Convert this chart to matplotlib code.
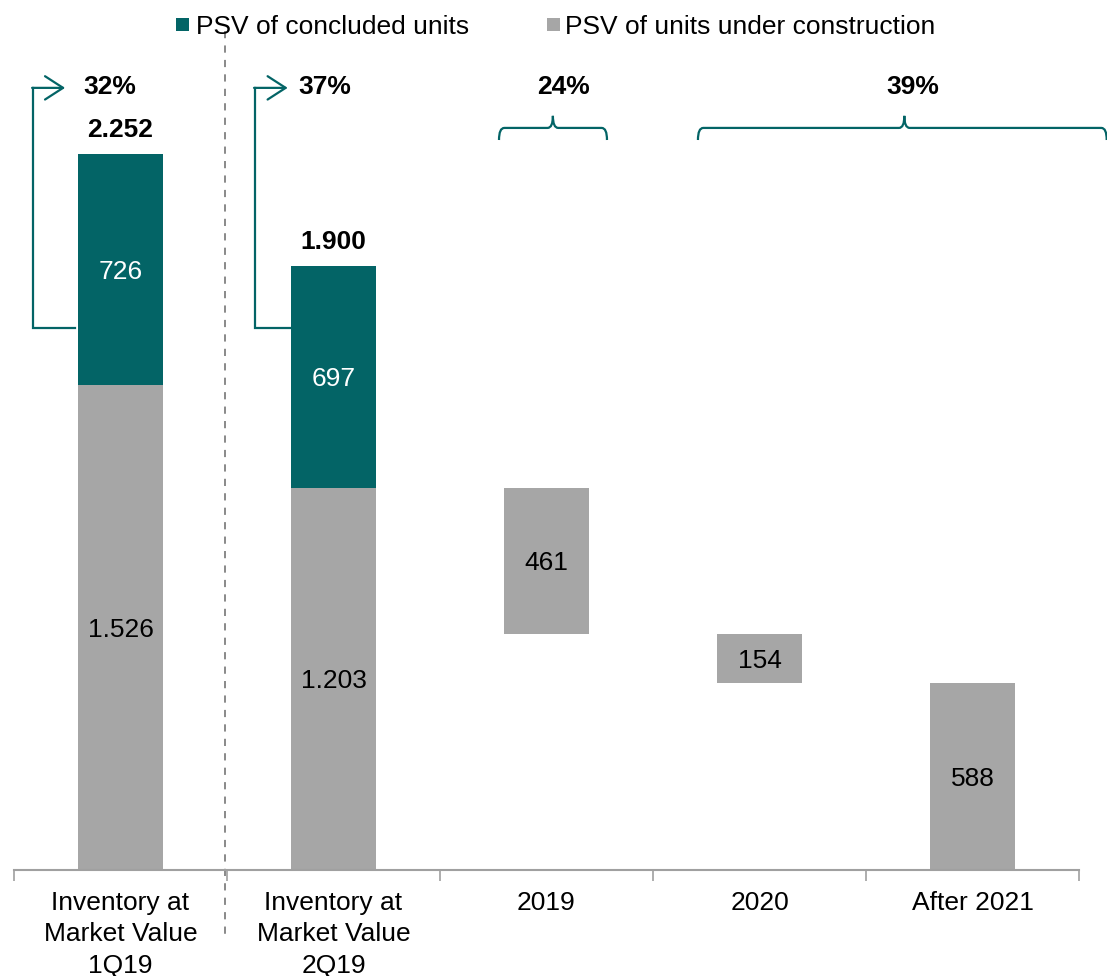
import numpy as np
import matplotlib
matplotlib.use('Agg')
import matplotlib.pyplot as plt
from matplotlib.patches import Rectangle, PathPatch
from matplotlib.path import Path

plt.rcParams['font.family'] = ['Liberation Sans', 'DejaVu Sans']

categories = ['Inventory at\nMarket Value\n1Q19', 'Inventory at\nMarket Value\n2Q19',
              '2019', '2020', 'After 2021']
concluded = [726, 697, 0, 0, 0]
under_construction = [1526, 1203, 461, 154, 588]
legend_labels = ['PSV of concluded units', 'PSV of units under construction']

teal = '#036466'
grey = '#A6A6A6'

def br(v):
    return f'{v:,}'.replace(',', '.')

# the last three bars step down from the 2Q19 stock of units under construction
bases = [0, 0]
level = under_construction[1]
for v in under_construction[2:]:
    level -= v
    bases.append(level)

totals = [concluded[0] + under_construction[0], concluded[1] + under_construction[1]]

f = plt.figure(figsize=(11.07, 9.76), dpi=100)
ax = f.add_axes([14/1107, 106/976, 1065/1107, 2600*0.31794/976])
x = np.arange(len(categories))
w = 0.4

ax.bar(x, under_construction, w, bottom=bases, color=grey, zorder=2)
ax.bar(x[:2], concluded[:2], w, bottom=under_construction[:2], color=teal, zorder=2)

for i in range(len(categories)):
    ax.text(x[i], bases[i] + under_construction[i]/2, br(under_construction[i]),
            ha='center', va='center_baseline', fontsize=19, color='black')
for i in range(2):
    ax.text(x[i], under_construction[i] + concluded[i]/2, br(concluded[i]),
            ha='center', va='center_baseline', fontsize=19, color='white')
ax.text(x[0], totals[0] + 82, br(totals[0]), ha='center', va='center_baseline', fontsize=19, fontweight='bold')
ax.text(x[1], totals[1] + 82, br(totals[1]), ha='center', va='center_baseline', fontsize=19, fontweight='bold')

ax.set_xlim(-0.5, len(categories) - 0.5)
ax.set_ylim(0, 2600)
for s in ['top', 'right', 'left']:
    ax.spines[s].set_visible(False)
ax.spines['bottom'].set_color('#A0A0A0')
ax.spines['bottom'].set_linewidth(1.5)
ax.set_yticks([])
ax.set_xticks(x)
ax.set_xticklabels(categories, fontsize=19, linespacing=1.4)
ax.tick_params(axis='x', which='major', length=0, pad=15)
ax.set_xticks(np.arange(-0.5, len(categories)), minor=True)
ax.tick_params(axis='x', which='minor', length=8, width=1.2, color='#A0A0A0', direction='out')

# separator between the two inventory dates
ax.plot([0.49, 0.49], [2638, -220], color='#808080', ls=(0, (4, 4)), lw=1.3, clip_on=False, zorder=1)

# share of concluded units: elbow arrows
pct_done = [concluded[i]/totals[i]*100 for i in range(2)]
for xl, xr, tip, lx, p in [(-0.411, -0.214, -0.26, -0.05, pct_done[0]),
                           (0.631, 0.795, 0.785, 0.96, pct_done[1])]:
    ax.plot([xr, xl, xl], [1705, 1705, 2460], color=teal, lw=1.6, clip_on=False, solid_joinstyle='miter')
    ax.annotate('', xy=(tip, 2460), xytext=(xl - 0.004, 2460),
                arrowprops=dict(arrowstyle='->,head_length=0.65,head_width=0.42', color=teal,
                                lw=1.6, mutation_scale=20, shrinkA=0, shrinkB=0),
                annotation_clip=False)
    ax.text(lx, 2471, f'{p:.0f}%', ha='center', va='center_baseline', fontsize=19, fontweight='bold')

def brace(x0, x1, xc, y, h=38, r=0.025):
    verts = [(x0, y - h), (x0, y), (x0 + r, y),
             (xc - r, y), (xc, y), (xc, y + h),
             (xc, y), (xc + r, y),
             (x1 - r, y), (x1, y), (x1, y - h)]
    codes = [Path.MOVETO, Path.CURVE3, Path.CURVE3,
             Path.LINETO, Path.CURVE3, Path.CURVE3,
             Path.CURVE3, Path.CURVE3,
             Path.LINETO, Path.CURVE3, Path.CURVE3]
    ax.add_patch(PathPatch(Path(verts, codes), fill=False, edgecolor=teal, lw=1.6, clip_on=False))

# share of the 2Q19 stock delivered per period
p2019 = under_construction[2]/totals[1]*100
plater = (under_construction[3] + under_construction[4])/totals[1]*100
brace(1.777, 2.284, 2.03, 2334)
ax.text(2.08, 2471, f'{p2019:.0f}%', ha='center', va='center_baseline', fontsize=19, fontweight='bold')
brace(2.711, 4.63, 3.68, 2334)
ax.text(3.72, 2471, f'{plater:.0f}%', ha='center', va='center_baseline', fontsize=19, fontweight='bold')

# legend
for sx, tx, c, lab in [(176, 196, teal, legend_labels[0]), (547, 565, grey, legend_labels[1])]:
    f.patches.append(Rectangle((sx/1107, 1 - 31/976), 13/1107, 13/976, transform=f.transFigure,
                               facecolor=c, edgecolor='none'))
    f.text(tx/1107, 1 - 25/976, lab, ha='left', va='center_baseline', fontsize=19)

f.savefig('out.png', dpi=100)
